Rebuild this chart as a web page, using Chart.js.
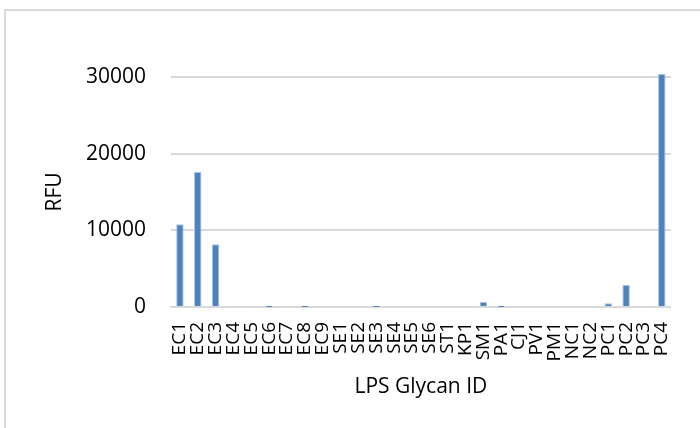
<!DOCTYPE html>
<html>
<head>
<meta charset="utf-8">
<script src="https://cdn.jsdelivr.net/npm/chart.js@4/dist/chart.umd.min.js"></script>
<style>
  html, body { margin: 0; padding: 0; background: #fff; overflow: hidden; }
  #moldura {
    position: absolute; left: 4px; top: 9px; width: 900px; height: 600px;
    border: 2px solid #d9d9d9; box-sizing: border-box;
  }
  #caixa { position: absolute; left: 0; top: 0; width: 700px; height: 428px; }
</style>
</head>
<body>
<div id="moldura"></div>
<div id="caixa"><canvas id="graficoRFU" width="700" height="428"></canvas></div>
<script>
// dados
const glicanos = [
  "EC1", "EC2", "EC3", "EC4", "EC5", "EC6", "EC7", "EC8", "EC9",
  "SE1", "SE2", "SE3", "SE4", "SE5", "SE6", "ST1", "KP1", "SM1",
  "PA1", "CJ1", "PV1", "PM1", "NC1", "NC2", "PC1", "PC2", "PC3", "PC4",
];
const valoresRFU = [
  10800, 17600, 8200, 0, 0, 15, 0, 15, 0,
  0, 150, 15, 0, 0, 0, 0, 0, 650,
  15, 0, 0, 0, 0, 0, 480, 2900, 0, 30400,
];
const ticksY = [0, 10000, 20000, 30000];

const fonte = "'Open Sans', 'DejaVu Sans', sans-serif";

function renderizarGrafico() {
  const ctx = document.getElementById("graficoRFU").getContext("2d");

  new Chart(ctx, {
    type: "bar",
    data: {
      labels: glicanos,
      datasets: [
        {
          label: "RFU",
          data: valoresRFU,
          backgroundColor: "#4f81bd",
          borderColor: "#a9c4e6",
          borderWidth: { left: 1, right: 1, top: 1, bottom: 0 },
          categoryPercentage: 1,
          barPercentage: 0.42,
          clip: false,
        },
      ],
    },
    options: {
      responsive: false,
      animation: false,
      layout: { padding: { left: 38, top: 77, right: 22, bottom: 24 } },
      plugins: {
        legend: { display: false },
        tooltip: { enabled: false },
      },
      scales: {
        x: {
          grid: { display: false, drawTicks: false },
          border: { display: true, color: "#d9d9d9", width: 2 },
          ticks: {
            autoSkip: false,
            maxRotation: 90,
            minRotation: 90,
            padding: 15,
            color: "#000",
            font: { family: fonte, size: 19 },
          },
          title: {
            display: true,
            text: "LPS Glycan ID",
            color: "#000",
            font: { family: fonte, size: 21 },
            padding: { top: 4, bottom: 4 },
          },
          afterFit(escala) {
            escala.height = 97;
          },
        },
        y: {
          min: 0,
          max: 30000,
          afterBuildTicks(escala) {
            escala.ticks = ticksY.map((v) => ({ value: v }));
          },
          grid: { color: "#d9d9d9", lineWidth: 2, drawTicks: false },
          border: { display: false },
          ticks: {
            padding: 25,
            color: "#000",
            font: { family: fonte, size: 21 },
            callback: (v) => String(v),
          },
          title: {
            display: true,
            text: "RFU",
            color: "#000",
            font: { family: fonte, size: 21 },
            padding: { top: 4, bottom: 4 },
          },
          afterFit(escala) {
            escala.width = 133;
          },
        },
      },
    },
  });
}

renderizarGrafico();
</script>
</body>
</html>
